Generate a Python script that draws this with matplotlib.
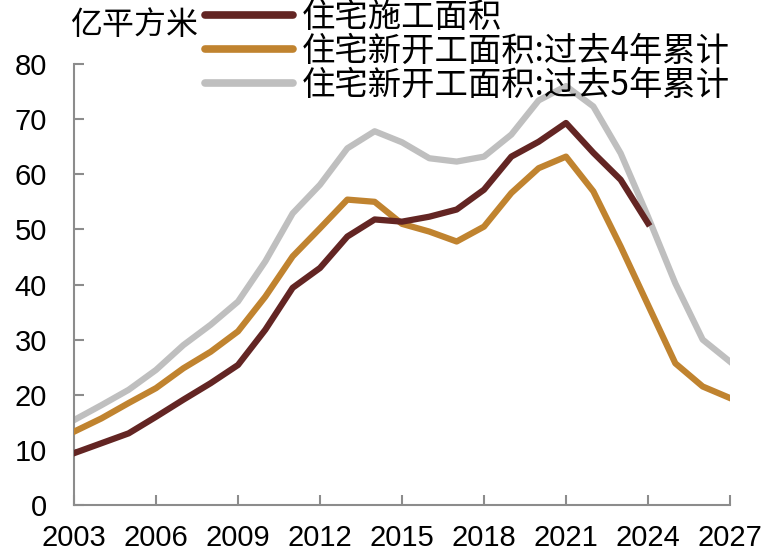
import numpy as np
import matplotlib
matplotlib.use("Agg")
import matplotlib.pyplot as plt

plt.rcParams['font.family'] = ['Noto Sans CJK SC', 'DejaVu Sans']

years = np.arange(2003, 2028)
years_sg = np.arange(2003, 2025)

# 住宅施工面积 (2003-2024)
shigong = [9.4, 11.2, 13.0, 16.0, 19.1, 22.1, 25.4, 31.8, 39.4, 43.0, 48.7, 51.8,
           51.4, 52.3, 53.6, 57.2, 63.2, 65.9, 69.3, 63.9, 59.0, 51.1]
# 住宅新开工面积:过去4年累计
xk4 = [13.3, 15.7, 18.5, 21.2, 24.8, 27.8, 31.5, 37.8, 45.1, 50.2, 55.4, 55.0,
       51.0, 49.6, 47.8, 50.5, 56.6, 61.1, 63.2, 56.9, 46.9, 36.3, 25.7, 21.5, 19.4]
# 住宅新开工面积:过去5年累计
xk5 = [15.4, 18.1, 20.9, 24.5, 29.0, 32.7, 36.9, 44.2, 52.9, 58.1, 64.7, 67.8,
       65.8, 62.9, 62.3, 63.2, 67.2, 73.4, 76.0, 72.3, 63.8, 52.3, 40.2, 30.0, 26.0]

labels = ["住宅施工面积", "住宅新开工面积:过去4年累计", "住宅新开工面积:过去5年累计"]
colors = ["#632523", "#C0832F", "#BFBFBF"]

fig = plt.figure(figsize=(7.73, 5.57), dpi=100)
ax = fig.add_axes([74/773, 52/557, 656/773, 441/557])

ax.plot(years, xk5, color=colors[2], lw=4.5, label=labels[2], zorder=2)
ax.plot(years, xk4, color=colors[1], lw=4.5, label=labels[1], zorder=3)
ax.plot(years_sg, shigong, color=colors[0], lw=4.5, label=labels[0], zorder=4)

ax.set_xlim(2003, 2027)
ax.set_ylim(0, 80)
ax.set_xticks(np.arange(2003, 2028, 3))
ax.set_yticks(np.arange(0, 81, 10))

for s in ["top", "right"]:
    ax.spines[s].set_visible(False)
for s in ["left", "bottom"]:
    ax.spines[s].set_color("#8c8c8c")
    ax.spines[s].set_linewidth(1.5)

ax.tick_params(axis="both", direction="in", length=7, width=1.5, color="#8c8c8c")
ax.tick_params(axis="y", pad=19.5)
ax.tick_params(axis="x", pad=14)
for lab in ax.get_xticklabels():
    lab.set_family(['Liberation Sans', 'DejaVu Sans'])
    lab.set_fontsize(21)
for lab in ax.get_yticklabels():
    lab.set_family(['Liberation Sans', 'DejaVu Sans'])
    lab.set_fontsize(21)

fig.text(70/773, 1 - 25/557, "亿平方米", fontsize=23, ha="left", va="center")

h, l = ax.get_legend_handles_labels()
leg = fig.legend(h[::-1], l[::-1], loc="upper left", bbox_to_anchor=(205/773, 1.0),
                 frameon=False, fontsize=24, handlelength=2.65, handletextpad=0.25,
                 labelspacing=-0.03, borderpad=0, borderaxespad=0)
for line in leg.get_lines():
    line.set_solid_capstyle("round")
    line.set_linewidth(5.5)

fig.savefig("out.png", dpi=100)
